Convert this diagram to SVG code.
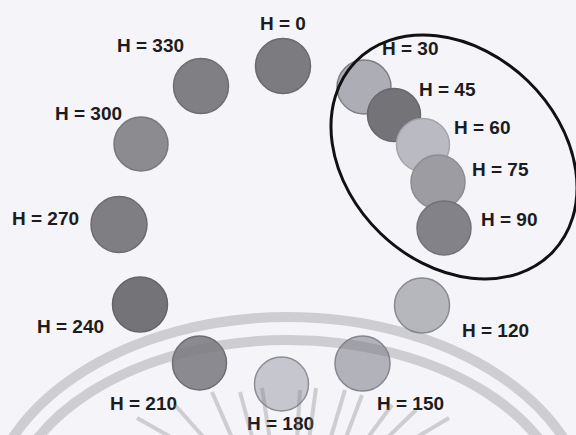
<svg xmlns="http://www.w3.org/2000/svg" width="576" height="435" viewBox="0 0 576 435">
  <style>
    .lbl { font-family: "Liberation Sans", Arial, sans-serif; font-weight: bold; font-size: 19px; fill: #1c1c1e; }
    .dot { stroke-width: 1.5; }
    .wm { fill: none; stroke: #7c7c80; stroke-opacity: 0.32; }
  </style>
  <rect width="576" height="435" fill="#f5f4f9"/>

  <g id="node-h0"><circle class="dot" cx="283" cy="66" r="27.5" fill="#7b7b80" stroke="#6a6a6e"/><text class="lbl" x="260" y="30">H = 0</text></g>
  <g id="node-h330"><circle class="dot" cx="201" cy="86" r="27.5" fill="#7f7f84" stroke="#6e6e72"/><text class="lbl" x="117" y="52">H = 330</text></g>
  <g id="node-h300"><circle class="dot" cx="141" cy="144" r="27" fill="#8b8b90" stroke="#78787c"/><text class="lbl" x="55" y="120">H = 300</text></g>
  <g id="node-h270"><circle class="dot" cx="119" cy="224.5" r="28" fill="#7e7e83" stroke="#6c6c70"/><text class="lbl" x="12" y="225">H = 270</text></g>
  <g id="node-h240"><circle class="dot" cx="140" cy="304.5" r="27.5" fill="#737378" stroke="#646468"/><text class="lbl" x="37" y="333">H = 240</text></g>
  <g id="node-h210"><circle class="dot" cx="199.5" cy="363" r="27" fill="#8a8a90" stroke="#6e6e74"/><text class="lbl" x="110" y="410">H = 210</text></g>
  <g id="node-h180"><circle class="dot" cx="281.5" cy="384" r="27" fill="#c6c6ce" stroke="#8e8e96"/><text class="lbl" x="247" y="430">H = 180</text></g>
  <g id="node-h150"><circle class="dot" cx="362.5" cy="363.5" r="27.5" fill="#b2b2ba" stroke="#86868e"/><text class="lbl" x="377" y="410">H = 150</text></g>
  <g id="node-h120"><circle class="dot" cx="422" cy="305.5" r="27.5" fill="#b6b6bd" stroke="#8a8a92"/><text class="lbl" x="462" y="337">H = 120</text></g>
  <g id="node-h30"><circle class="dot" cx="364" cy="87" r="27" fill="#adadb5" stroke="#7e7e86"/><text class="lbl" x="382" y="55">H = 30</text></g>
  <g id="node-h45"><circle class="dot" cx="394" cy="115" r="26.5" fill="#737378" stroke="#67676c"/><text class="lbl" x="419" y="96">H = 45</text></g>
  <g id="node-h60"><circle class="dot" cx="423" cy="145" r="26.5" fill="#babac2" stroke="#a4a4ac"/><text class="lbl" x="454" y="134">H = 60</text></g>
  <g id="node-h75"><circle class="dot" cx="438" cy="182" r="27" fill="#9c9ca2" stroke="#8c8c92"/><text class="lbl" x="472" y="176">H = 75</text></g>
  <g id="node-h90"><circle class="dot" cx="444" cy="228" r="27" fill="#828288" stroke="#727278"/><text class="lbl" x="481" y="226">H = 90</text></g>

  <g id="connectors">
    <ellipse cx="454" cy="157" rx="137" ry="106" transform="rotate(44 454 157)" fill="none" stroke="#111" stroke-width="3"/>
  </g>

  <g id="watermark">
    <ellipse class="wm" cx="288" cy="522" rx="302" ry="205" stroke-width="10"/>
    <ellipse class="wm" cx="288" cy="522" rx="282" ry="182" stroke-width="10"/>
    <g stroke-width="4" class="wm">
      <path d="M137 418 L176 440"/>
      <path d="M175 405 L206 440"/>
      <path d="M212 392 L233 440"/>
      <path d="M240 392 L253 440"/>
      <path d="M262 388 L270 440"/>
      <path d="M300 390 L297 440"/>
      <path d="M316 388 L309 440"/>
      <path d="M345 390 L330 440"/>
      <path d="M362 395 L345 440"/>
      <path d="M392 405 L366 440"/>
      <path d="M416 410 L385 440"/>
      <path d="M449 418 L412 440"/>
    </g>
  </g>
</svg>
